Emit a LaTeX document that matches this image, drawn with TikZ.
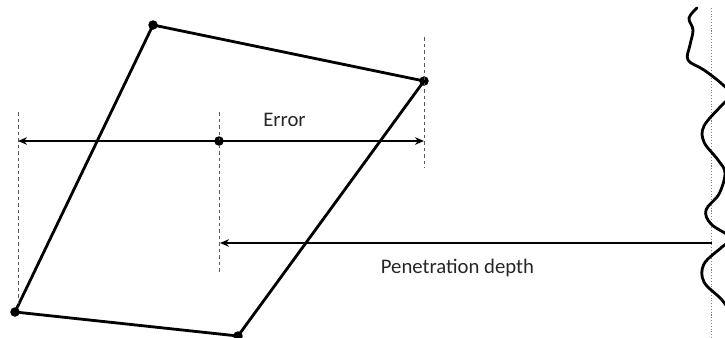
\documentclass[tikz,border=0pt]{standalone}
\usepackage{fontspec}
\setmainfont{Carlito}
\usetikzlibrary{arrows.meta}

\begin{document}
\begin{tikzpicture}[
    x=0.2mm, y=-0.2mm,
    edge/.style={line width=1.6pt, line join=round},
    dot/.style={circle, fill, inner sep=0pt, minimum size=1.9mm},
    guide/.style={gray!70!black, line width=0.45pt, dash pattern=on 2.2pt off 1.5pt},
    surface/.style={gray, line width=0.6pt, densely dotted},
    wave/.style={line width=1.6pt, line cap=round},
    dim/.style={line width=0.9pt},
    lbl/.style={font=\fontsize{11.8}{14}\selectfont, text=black!85, inner sep=0pt, anchor=base},
]
    \useasboundingbox (0,0) rectangle (725,338);

    % Corners of the body
    \node[dot] (pTop) at (153,25) {};
    \node[dot] (pRight) at (424,81) {};
    \node[dot] (pBottom) at (238,336) {};
    \node[dot] (pLeft) at (15,312) {};
    \node[dot] (pMid) at (219,141) {};

    % Body outline
    \draw[edge] (pTop.center) -- (pRight.center) -- (pBottom.center) -- (pLeft.center) -- cycle;

    % --- Guide lines ---
    \coordinate (gLtop) at (18,112);
    \coordinate (gLbot) at (18,308);
    \coordinate (gMtop) at (219,112);
    \coordinate (gMbot) at (219,273);
    \coordinate (gRtop) at (424,37);
    \coordinate (gRbot) at (424,168);
    \draw[guide] (gLtop) -- (gLbot);
    \draw[guide] (gMtop) -- (gMbot);
    \draw[guide] (gRtop) -- (gRbot);

    % Error span
    \coordinate (errL) at (18,141);
    \coordinate (errR) at (424,141);
    \draw[dim, {Stealth[length=1.8mm, width=1.5mm]}-{Stealth[length=1.8mm, width=1.5mm]}] (errL) -- (errR);
    \node[lbl] (errLabel) at (284.5,126) {Error};

    % --- Surface ---
    \coordinate (sTop) at (711.5,8);
    \coordinate (sBot) at (711.5,338);
    \draw[surface] (sTop) -- (sBot);
    \begin{scope}
        \clip (0,0) rectangle (725,338);
        \draw[wave] plot[smooth, tension=0.6] coordinates {
            (697,8) (689,18) (693,30) (690,45) (688,60) (704,70) (722,84) (731,95)
            (722,105) (704,126) (704,142) (718,160) (725,173) (719,194) (706,210)
            (711,224) (731,238) (722,247) (704,264) (704,282) (722,300) (736,320)};
    \end{scope}

    % Penetration depth
    \coordinate (penStart) at (711.5,243);
    \coordinate (penEnd) at (220,243);
    \draw[dim, -{Stealth[length=1.8mm, width=1.5mm]}] (penStart) -- (penEnd);
    \node[lbl] (penLabel) at (457.5,273) {Penetration depth};

\end{tikzpicture}
\end{document}
